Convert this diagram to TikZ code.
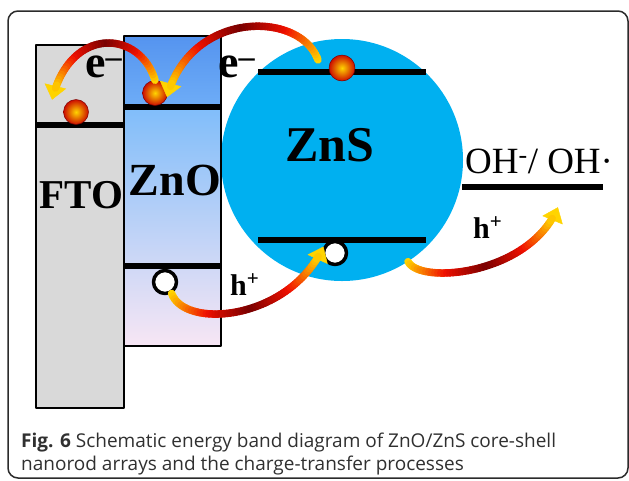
\documentclass[tikz,border=0pt]{standalone}
\usepackage{fontspec}
\setmainfont{Liberation Serif}
\newfontfamily\capfont{Open Sans}
\usepackage{tikz}
\usetikzlibrary{arrows.meta,decorations.markings}
\definecolor{ftogray}{HTML}{D9D9D9}
\definecolor{znotop}{HTML}{5594EF}
\definecolor{znocb}{HTML}{6EADF7}
\definecolor{znomid}{HTML}{80BDFA}
\definecolor{znobot}{HTML}{F7E6F4}
\definecolor{znsblue}{HTML}{00B0F0}
\definecolor{hotyellow}{HTML}{FFD400}
\definecolor{hotred}{HTML}{F01000}
\definecolor{deepred}{HTML}{7A0000}
\definecolor{framegray}{HTML}{2B2B2B}
\definecolor{capink}{HTML}{303030}
\tikzset{
  band diagram/.style={
    x=1pt, y=-1pt,
    line join=round
  },
  framebox/.style={
    draw=framegray,
    line width=1.5pt,
    rounded corners=10pt
  },
  boxline/.style={
    draw=black,
    line width=2.5pt
  },
  bandline/.style={
    line width=5.5pt
  },
  electron/.style={
    circle,
    inner sep=0pt,
    minimum size=25pt,
    inner color=hotyellow,
    outer color=hotred!85!black,
    draw=deepred,
    line width=0.5pt
  },
  hole/.style={
    circle,
    inner sep=0pt,
    minimum size=23pt,
    fill=white,
    draw=black,
    line width=3.5pt
  },
  ribbon/.style={
    line width=7.5pt,
    line cap=round
  },
  biglabel/.style={
    inner sep=0pt,
    anchor=base
  },
  carrier/.style={
    inner sep=0pt,
    anchor=base west,
    font=\bfseries
  },
  caption/.style={
    inner sep=0pt,
    anchor=base west,
    text=capink,
    font=\capfont\fontsize{19}{23}\selectfont
  }
}
% curved charge-transfer arrow, yellow -> deep red -> yellow
\newcommand{\chargearrow}[5]{%
  \path[decorate, decoration={markings,
      mark=between positions 0 and -11pt step 3pt with {%
        \coordinate (#1-\pgfkeysvalueof{/pgf/decoration/mark info/sequence number});
        \xdef\arrowsegs{\pgfkeysvalueof{/pgf/decoration/mark info/sequence number}}},
      mark=at position -0.5pt with {\arrow[hotyellow]{Triangle[width=22pt,length=14pt]}}}]
    (#2) .. controls (#3) and (#4) .. (#5);
  \pgfmathtruncatemacro\lastseg{\arrowsegs-1}
  \foreach \k [evaluate=\k as \kn using int(\k+1),
               evaluate=\k as \shad using 1-abs(2*(\k-1)/\lastseg-1)] in {1,...,\lastseg}{
    \pgfmathtruncatemacro\pa{min(100,200*\shad)}
    \pgfmathtruncatemacro\qb{100-max(0,200*\shad-100)}
    \draw[ribbon, color=hotred!\pa!hotyellow!\qb!deepred] (#1-\k) -- (#1-\kn);
  }
}

\begin{document}
\begin{tikzpicture}[band diagram]
\useasboundingbox (0,0) rectangle (629,480);
\draw[framebox] (8,11) rectangle (628,478);

% ZnS nanoshell
\node[circle, fill=znsblue, minimum size=242pt, inner sep=0pt] (zns) at (342,160) {};

% FTO and ZnO columns
\filldraw[fill=ftogray, boxline] (36,45) rectangle (124,408);
\shade[top color=znotop, bottom color=znocb] (124,36) rectangle (221,107);
\shade[top color=znomid, bottom color=znobot] (124,107) rectangle (221,346);
\draw[boxline] (124,36) rectangle (221,346);

% band edges
\draw[bandline] (36,125) -- (124,125);
\draw[bandline] (124,107) -- (221,107);
\draw[bandline] (124,266) -- (221,266);
\draw[bandline] (258,72) -- (426,72);
\draw[bandline] (258,240) -- (426,240);
\draw[bandline] (462,187) -- (603,187);

% labels
\node[biglabel, font=\bfseries\fontsize{41}{41}\selectfont] (ftolabel) at (81.5,208) {FTO};
\node[biglabel, font=\bfseries\fontsize{46}{46}\selectfont] (znolabel) at (175,195) {ZnO};
\node[biglabel, font=\bfseries\fontsize{50}{50}\selectfont] (znslabel) at (330,161) {ZnS};
\node[carrier, font=\bfseries\fontsize{46}{46}\selectfont] (e1) at (85,77) {e\textsuperscript{–}};
\node[carrier, font=\bfseries\fontsize{46}{46}\selectfont] (e2) at (218,77) {e\textsuperscript{–}};
\node[carrier, font=\bfseries\fontsize{30}{30}\selectfont] (h1) at (230,295) {h\textsuperscript{+}};
\node[carrier, font=\bfseries\fontsize{30}{30}\selectfont] (h2) at (473,238) {h\textsuperscript{+}};
\node[inner sep=0pt, anchor=base west, font=\fontsize{37}{37}\selectfont] (redox) at (465,173) {OH\textsuperscript{-}/ OH·};

% carriers
\node[electron] (eFTO) at (76,112) {};
\node[electron] (eZnO) at (155,93) {};
\node[electron, minimum size=26pt] (eZnS) at (342,68) {};
\node[hole] (hZnO) at (165,282) {};
\node[hole] (hZnS) at (335,253) {};

% transfer paths
\coordinate (fto-in) at (52,100);
\coordinate (zns-out) at (318,60);
\coordinate (oh-in) at (558,207);
\chargearrow{a1}{eZnO.north}{140,30}{70,25}{fto-in}
\chargearrow{a2}{zns-out}{300,10}{190,10}{eZnO.-20}
\chargearrow{a3}{hZnO.-60}{185,330}{290,320}{hZnS.150}
\chargearrow{a4}{zns.-57}{420,285}{530,275}{oh-in}

% caption
\node[caption] (cap1) at (21,447) {\textbf{Fig. 6} Schematic energy band diagram of ZnO/ZnS core-shell};
\node[caption] (cap2) at (21,470) {nanorod arrays and the charge-transfer processes};
\end{tikzpicture}
\end{document}
